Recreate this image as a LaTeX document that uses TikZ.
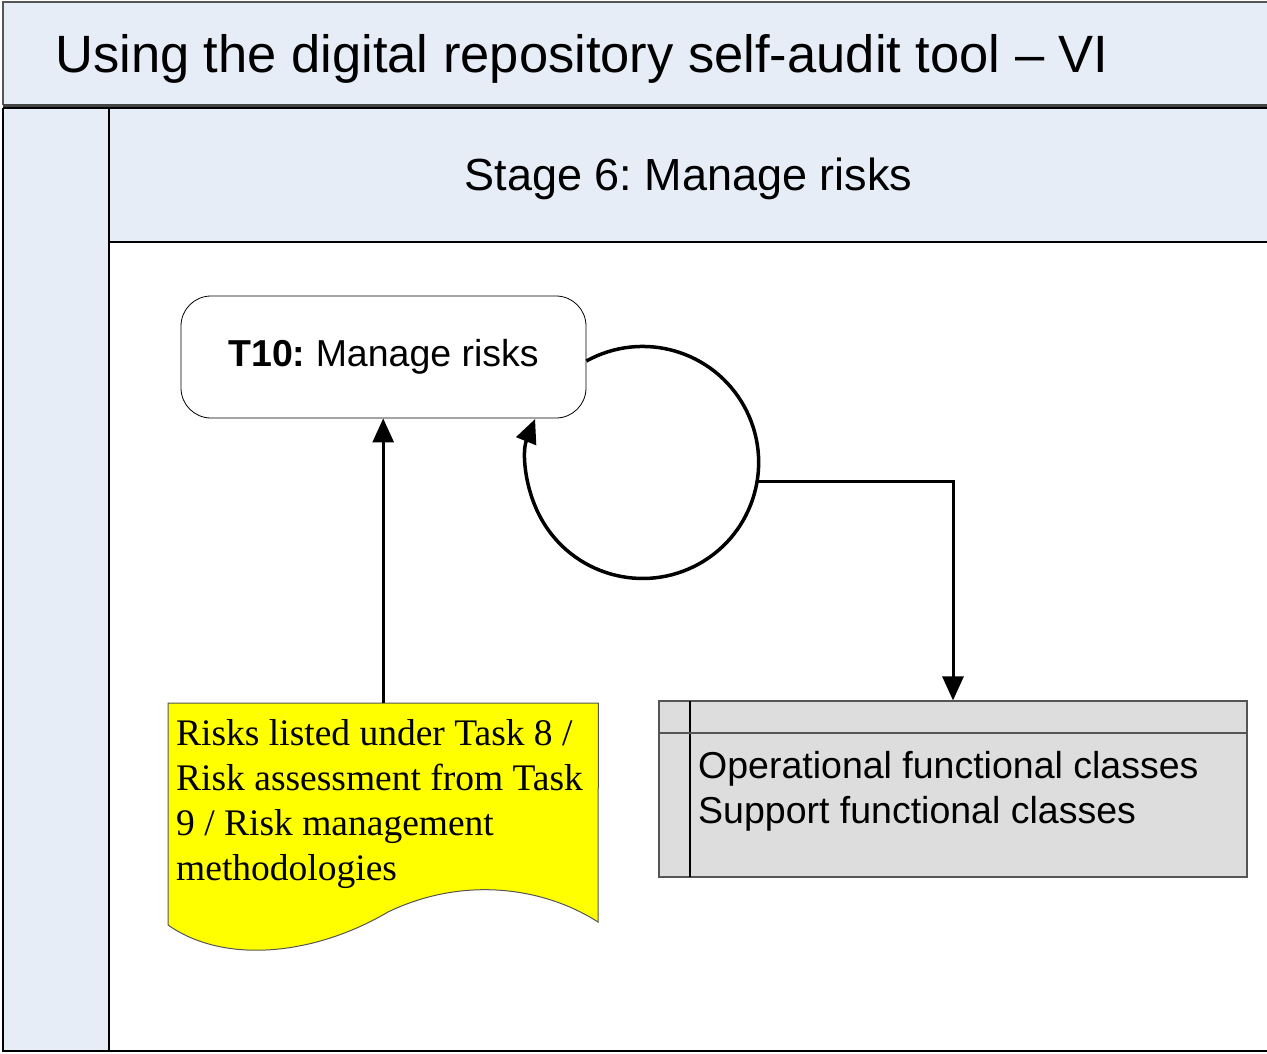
\documentclass[tikz,border=0pt]{standalone}
\usepackage{fontspec}
\setmainfont{Liberation Sans}
\newfontfamily\docserif{Liberation Serif}
\usetikzlibrary{arrows.meta}

\definecolor{lanebg}{HTML}{E6EDF7}
\definecolor{frameline}{HTML}{555555}
\definecolor{classbg}{HTML}{DDDDDD}
\definecolor{docfill}{HTML}{FFFF00}

\tikzset{
  flow/.style={line width=3pt, -{Triangle[length=24pt,width=21pt]}},
  looparrow/.style={line width=3.5pt, -{Triangle[length=24pt,width=21pt]}},
  taskbox/.style={draw=black, line width=0.8pt, fill=white, rounded corners=30pt,
    minimum width=405pt, minimum height=122pt, inner sep=0pt,
    font=\fontsize{37.5}{45}\selectfont},
  classbox/.style={draw=frameline, line width=1.2pt, fill=classbg,
    minimum width=588pt, minimum height=176pt, inner sep=0pt},
  classline/.style={anchor=base west, inner sep=0pt, font=\fontsize{37.5}{45}\selectfont},
  docline/.style={anchor=base west, inner sep=0pt, font=\docserif\fontsize{37.5}{45}\selectfont},
}

\begin{document}
\frenchspacing
\begin{tikzpicture}[x=1pt,y=-1pt]
\useasboundingbox (0,0) rectangle (1267,1053);

% swimlane frame
\fill[lanebg] (3,2) rectangle (1267,105);
\fill[lanebg] (3,108) rectangle (109,1051);
\fill[lanebg] (109,108) rectangle (1267,242);
\draw[frameline, line width=2pt] (1267,2) -- (3,2) -- (3,105);
\draw[frameline!80!black, line width=3pt] (3,105) -- (1267,105);
\draw[black, line width=1.2pt] (3,108) -- (1267,108);
\draw[black, line width=2pt] (3,108) -- (3,1051) -- (1267,1051);
\draw[black, line width=1.2pt] (109,108) -- (109,1051);
\draw[black, line width=1.2pt] (109,242) -- (1267,242);

% headings
\node[anchor=base west, inner sep=0pt, font=\fontsize{52.5}{60}\selectfont]
  (title) at (55,72) {Using the digital repository self-audit tool -- VI};
\node[anchor=base, inner sep=0pt, font=\fontsize{45}{54}\selectfont]
  (stage) at (688.5,190) {Stage 6: Manage risks};

% task
\node[taskbox] (t10) at (383.5,357) {\textbf{T10:} Manage risks};

% input document
\node[inner sep=0pt, minimum width=430pt, minimum height=220pt, anchor=north west]
  (doc) at (168,703) {};
\filldraw[fill=docfill, draw=frameline, line width=1pt]
  (doc.north west) -- (doc.north east) -- (598,922)
  .. controls (545,888) and (465,875) .. (388,912)
  .. controls (315,955) and (225,965) .. (168,925) -- cycle;
\node[docline] (doc1) at (176,745) {Risks listed under Task 8 /};
\node[docline] (doc2) at (176,790) {Risk assessment from Task};
\node[docline] (doc3) at (176,835) {9 / Risk management};
\node[docline] (doc4) at (176,880) {methodologies};

% output classes
\node[classbox] (cls) at (953,789) {};
\draw[black, line width=1.2pt] (690,701) -- (690,877);
\draw[frameline, line width=1.2pt] (659,733) -- (1247,733);
\node[classline] (cls1) at (698,778) {Operational functional classes};
\node[classline] (cls2) at (698,823) {Support functional classes};

% connectors
\draw[flow] (doc.north) -- (doc.north |- t10.south);
\draw[looparrow] ([yshift=-4pt]t10.east) arc[start angle=241, end angle=562, radius=116];
\coordinate (loopout) at (757.5,481);
\draw[flow] (loopout) -| (cls.north);
\end{tikzpicture}
\end{document}
